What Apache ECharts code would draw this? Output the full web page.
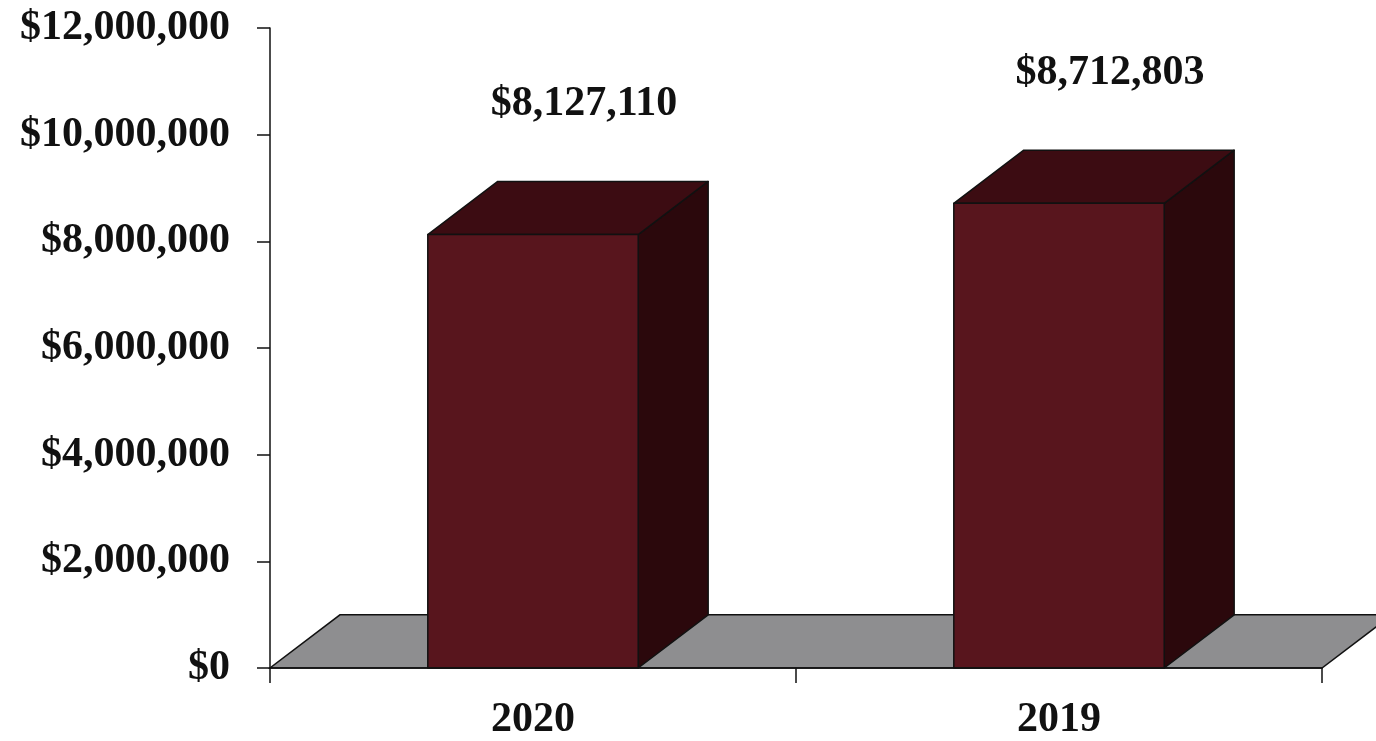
<!DOCTYPE html>
<html>
<head>
<meta charset="utf-8">
<script src="https://cdn.jsdelivr.net/npm/echarts@6/dist/echarts.min.js"></script>
<style>
  html, body { margin: 0; padding: 0; background: #ffffff; }
  #chart { width: 1376px; height: 741px; }
</style>
</head>
<body>
<div id="chart"></div>
<script>
// Annual totals
const years = ['2020', '2019'];
const totals = [8127110, 8712803];
const yTicks = [0, 2000000, 4000000, 6000000, 8000000, 10000000, 12000000];

const FONT = '"Liberation Serif", "Times New Roman", serif';
const FRONT = '#58151d';
const TOP = '#3c0c12';
const SIDE = '#2b080c';
const FLOOR = '#8e8e90';
const EDGE = '#111111';

function money(v) {
  return '$' + Math.round(v).toString().replace(/\B(?=(\d{3})+(?!\d))/g, ',');
}

// depth of the 3D extrusion relative to a category band
function depthOf(bandWidth) {
  return { dx: bandWidth * 0.133, dy: -bandWidth * 0.101 };
}

const chart = echarts.init(document.getElementById('chart'));

chart.setOption({
  backgroundColor: '#ffffff',
  animation: false,
  grid: { left: 270, right: 54, top: 28, bottom: 71 },
  xAxis: {
    type: 'category',
    data: years,
    boundaryGap: true,
    axisLine: { show: true, lineStyle: { color: EDGE, width: 1.5 } },
    axisTick: { show: true, length: 15, lineStyle: { color: EDGE, width: 1.5 } },
    axisLabel: {
      margin: 31,
      color: '#111',
      fontFamily: FONT,
      fontWeight: 'bold',
      fontSize: 42
    },
    z: 5
  },
  yAxis: {
    type: 'value',
    min: yTicks[0],
    max: yTicks[yTicks.length - 1],
    interval: yTicks[1] - yTicks[0],
    splitLine: { show: false },
    axisLine: { show: true, lineStyle: { color: EDGE, width: 1.5 } },
    axisTick: { show: true, length: 13, lineStyle: { color: EDGE, width: 1.5 } },
    axisLabel: {
      margin: 40,
      color: '#111',
      fontFamily: FONT,
      fontWeight: 'bold',
      fontSize: 42,
      formatter: money
    },
    z: 5
  },
  series: [
    {
      // floor plane under the bars
      type: 'custom',
      data: [0],
      z: 1,
      silent: true,
      renderItem: function (params, api) {
        const cs = params.coordSys;
        const band = api.size([1, 0])[0];
        const d = depthOf(band);
        const y0 = cs.y + cs.height;
        return {
          type: 'polygon',
          shape: {
            points: [
              [cs.x, y0],
              [cs.x + cs.width, y0],
              [cs.x + cs.width + d.dx, y0 + d.dy],
              [cs.x + d.dx, y0 + d.dy]
            ]
          },
          style: { fill: FLOOR, stroke: EDGE, lineWidth: 1.5 }
        };
      }
    },
    {
      // extruded bars with value labels
      type: 'custom',
      data: totals.map(function (v, i) { return [i, v]; }),
      z: 3,
      renderItem: function (params, api) {
        const idx = api.value(0);
        const val = api.value(1);
        const top = api.coord([idx, val]);
        const base = api.coord([idx, 0]);
        const band = api.size([1, 0])[0];
        const w = band * 0.4;
        const d = depthOf(band);
        const x0 = top[0] - w / 2;
        const x1 = top[0] + w / 2;
        const yt = top[1];
        const yb = base[1];
        const edge = { stroke: EDGE, lineWidth: 1.5, lineJoin: 'round' };
        return {
          type: 'group',
          children: [
            {
              type: 'polygon',
              shape: { points: [[x1, yb], [x1 + d.dx, yb + d.dy], [x1 + d.dx, yt + d.dy], [x1, yt]] },
              style: Object.assign({ fill: SIDE }, edge)
            },
            {
              type: 'polygon',
              shape: { points: [[x0, yt], [x1, yt], [x1 + d.dx, yt + d.dy], [x0 + d.dx, yt + d.dy]] },
              style: Object.assign({ fill: TOP }, edge)
            },
            {
              type: 'rect',
              shape: { x: x0, y: yt, width: w, height: yb - yt },
              style: Object.assign({ fill: FRONT }, edge)
            },
            {
              type: 'text',
              x: top[0] + band * 0.097,
              y: yt + d.dy - 77,
              style: {
                text: money(val),
                fill: '#111',
                font: 'bold 42px ' + FONT,
                align: 'center',
                verticalAlign: 'middle'
              }
            }
          ]
        };
      }
    }
  ]
});
</script>
</body>
</html>
